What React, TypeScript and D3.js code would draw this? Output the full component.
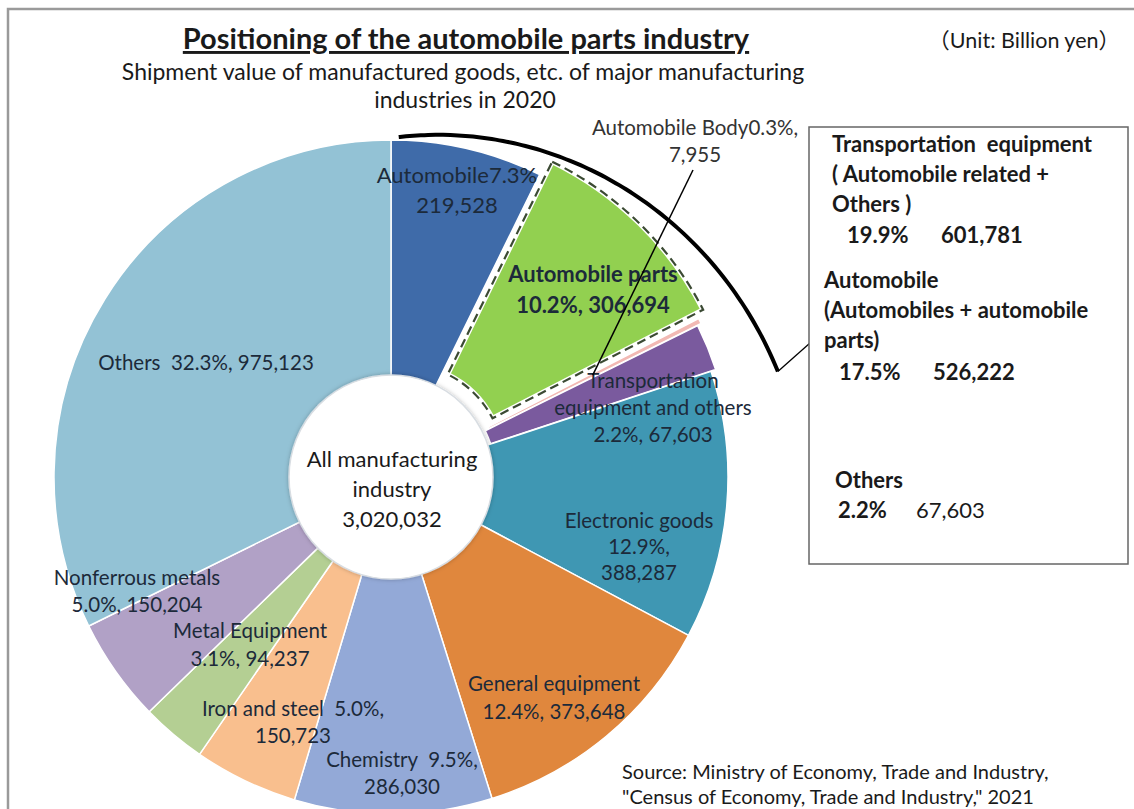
import React from "react";
import * as d3 from "d3";

// ---------- data ----------
const categories = [
  "Automobile",
  "Automobile parts",
  "Automobile Body",
  "Transportation equipment and others",
  "Electronic goods",
  "General equipment",
  "Chemistry",
  "Iron and steel",
  "Metal Equipment",
  "Nonferrous metals",
  "Others",
];
const values = [219528, 306694, 7955, 67603, 388287, 373648, 286030, 150723, 94237, 150204, 975123];
const colors = [
  "#3f6ba9", "#92d050", "#f2b9b4", "#7a5a9e", "#3f97b3", "#e0873d",
  "#93a9d7", "#f9bf8e", "#b4cf93", "#b1a1c6", "#93c2d5",
];
const totalLabel = "3,020,032";
const summaryTitles = [
  ["Transportation  equipment", "( Automobile related +", "Others )"],
  ["Automobile", "(Automobiles + automobile", "parts)"],
  ["Others"],
];
const summaryPct = ["19.9%", "17.5%", "2.2%"];
const summaryVal = ["601,781", "526,222", "67,603"];

// ---------- layout ----------
const W = 1134, H = 809;
const CX = 391, CY = 477;
const R_IN = 100, R_OUT = 337;
const explode = [0, 18, 9, 5, 0, 0, 0, 0, 0, 0, 0];
const FONT = "Lato, 'Noto Sans CJK JP', sans-serif";
const LABEL_COLOR = "#1c2a3a";

const total = d3.sum(values);
const fmt = d3.format(",");
const pct = (v: number) => d3.format(".1f")((v / total) * 100) + "%";

function labelLines(i: number): string[] {
  const v = fmt(values[i]);
  const p = pct(values[i]);
  switch (i) {
    case 0: return [`${categories[0]}${p}`, v];
    case 1: return [categories[1], `${p}, ${v}`];
    case 2: return [`${categories[2]}${p},`, v];
    case 3: return ["Transportation", "equipment and others", `${p}, ${v}`];
    case 4: return [categories[4], `${p},`, v];
    case 5: return [categories[5], `${p}, ${v}`];
    case 6: return [`${categories[6]}  ${p},`, v];
    case 7: return [`${categories[7]}  ${p},`, v];
    case 8: return [categories[8], `${p}, ${v}`];
    case 9: return [categories[9], `${p}, ${v}`];
    default: return [`${categories[10]}  ${p}, ${v}`];
  }
}
// [dx of centre, dy of first baseline, line gap, font size] relative to pie centre
const labelLayout: [number, number, number, number][] = [
  [66, -294, 30, 22],
  [202, -195, 31, 22],
  [304, -342, 27, 20.5],
  [262, -89, 27, 20.5],
  [248, 51, 26, 20.5],
  [163, 214, 28, 20.5],
  [11, 290, 27, 20.5],
  [-98, 239, 27, 20.5],
  [-141, 161, 28, 20.5],
  [-254, 108, 27, 20.5],
  [-185, -107, 0, 20.5],
];

export default function App() {
  const pie = d3.pie<number>().sort(null).value((d) => d).startAngle(0).endAngle(2 * Math.PI);
  const arcs = pie(values);
  const arcGen = d3.arc<d3.PieArcDatum<number>>().innerRadius(R_IN).outerRadius(R_OUT);

  const offset = (a: d3.PieArcDatum<number>, k: number) => {
    const m = (a.startAngle + a.endAngle) / 2;
    return [Math.sin(m) * k, -Math.cos(m) * k];
  };

  // bracket arc around automobile-related slices
  const endA = arcs[3].endAngle + (3 * Math.PI) / 180;
  const startA = (1.3 * Math.PI) / 180;
  const rScale = d3.scaleLinear().domain([startA, endA]).range([340, 401]);
  const pts = d3.range(0, 61).map((i) => startA + ((endA - startA) * i) / 60);
  const bracket = d3.lineRadial<number>().angle((a) => a).radius((a) => rScale(a)).curve(d3.curveBasis)(pts) || "";
  const bEnd = [CX + Math.sin(endA) * 401, CY - Math.cos(endA) * 401];

  // leader for Automobile Body
  const bodyMid = (arcs[2].startAngle + arcs[2].endAngle) / 2;
  const bodyPt = [CX + Math.sin(bodyMid) * 226, CY - Math.cos(bodyMid) * 226];

  const boxX = 809, boxY = 127, boxW = 319, boxH = 437;
  const pre = { whiteSpace: "pre" as const };

  return (
    <svg width={W} height={H} style={{ position: "absolute", left: 0, top: 0, background: "#fff" }} fontFamily={FONT}>
      <defs>
        <filter id="sh" x="-20%" y="-20%" width="140%" height="140%">
          <feDropShadow dx="0" dy="0" stdDeviation="2" floodColor="#000" floodOpacity="0.25" />
        </filter>
      </defs>
      <rect x={0} y={0} width={W} height={H} fill="#fff" />
      <rect x={8} y={9} width={W + 20} height={H + 20} fill="none" stroke="#9a9a9a" strokeWidth={2.5} />

      {/* slices */}
      <g transform={`translate(${CX},${CY})`}>
        {arcs.map((a, i) => {
          const [dx, dy] = offset(a, explode[i]);
          return (
            <g key={i} transform={`translate(${dx},${dy})`}>
              <path d={arcGen(a) || ""} fill={colors[i]} stroke="#fff" strokeWidth={i === 1 ? 5 : 1.5} strokeLinejoin="round" />
              {i === 1 && (
                <path d={arcGen(a) || ""} fill="none" stroke="#3b4a33" strokeWidth={2.2} strokeDasharray="9 5" />
              )}
            </g>
          );
        })}
        <circle r={R_IN + 2} fill="#fff" stroke="#d8dde2" strokeWidth={1.5} filter="url(#sh)" />
      </g>

      {/* center label */}
      <g fontSize={22} fill="#1a1a1a" textAnchor="middle">
        <text x={CX + 1} y={467}>All manufacturing</text>
        <text x={CX + 1} y={497}>industry</text>
        <text x={CX + 1} y={527}>{totalLabel}</text>
      </g>

      {/* slice labels */}
      <g fill={LABEL_COLOR} textAnchor="middle">
        {arcs.map((a, i) => {
          const lines = labelLines(i);
          const [lx, ly, gap, fs] = labelLayout[i];
          return (
            <g key={i} fontWeight={i === 1 ? 700 : 400} fontSize={fs} fill={i === 2 ? "#333" : LABEL_COLOR}>
              {lines.map((t, j) => (
                <text key={j} x={CX + lx} y={CY + ly + j * gap} style={pre}>{t}</text>
              ))}
            </g>
          );
        })}
      </g>

      {/* bracket arc */}
      <path d={bracket} transform={`translate(${CX},${CY})`} fill="none" stroke="#000" strokeWidth={4} />
      <line x1={bEnd[0]} y1={bEnd[1]} x2={boxX + 1} y2={343} stroke="#000" strokeWidth={1.3} />

      {/* leader for body */}
      <line x1={693} y1={170} x2={bodyPt[0]} y2={bodyPt[1]} stroke="#000" strokeWidth={1.5} />

      {/* title */}
      <text x={466} y={49} textAnchor="middle" fontSize={29} fontWeight={700} fill="#1a1a1a" style={{ textDecoration: "underline" }}>
        Positioning of the automobile parts industry
      </text>
      <text x={463} y={80} textAnchor="middle" fontSize={23} fill="#1a1a1a">
        Shipment value of manufactured goods, etc. of major manufacturing
      </text>
      <text x={465} y={108} textAnchor="middle" fontSize={23} fill="#1a1a1a">industries in 2020</text>
      <text x={1120} y={48} textAnchor="end" fontSize={21.5} fill="#1a1a1a">（Unit: Billion yen）</text>

      {/* summary box */}
      <rect x={boxX} y={boxY} width={boxW} height={boxH} fill="#fff" stroke="#666" strokeWidth={1.5} />
      <g fontSize={22} fontWeight={700} fill="#1a1a1a">
        {summaryTitles[0].map((t, j) => (
          <text key={j} x={832} y={152 + j * 30} style={pre}>{t}</text>
        ))}
        <text x={847} y={243}>{summaryPct[0]}</text>
        <text x={941} y={243}>{summaryVal[0]}</text>
        {summaryTitles[1].map((t, j) => (
          <text key={j} x={824} y={288 + j * 30} style={pre}>{t}</text>
        ))}
        <text x={839} y={380}>{summaryPct[1]}</text>
        <text x={933} y={380}>{summaryVal[1]}</text>
        {summaryTitles[2].map((t, j) => (
          <text key={j} x={835} y={488}>{t}</text>
        ))}
        <text x={838} y={518}>{summaryPct[2]}</text>
        <text x={916} y={518} fontWeight={400}>{summaryVal[2]}</text>
      </g>

      {/* source */}
      <g fontSize={20} fill="#1a1a1a">
        <text x={622} y={779}>Source: Ministry of Economy, Trade and Industry,</text>
        <text x={622} y={804}>"Census of Economy, Trade and Industry," 2021</text>
      </g>
    </svg>
  );
}
